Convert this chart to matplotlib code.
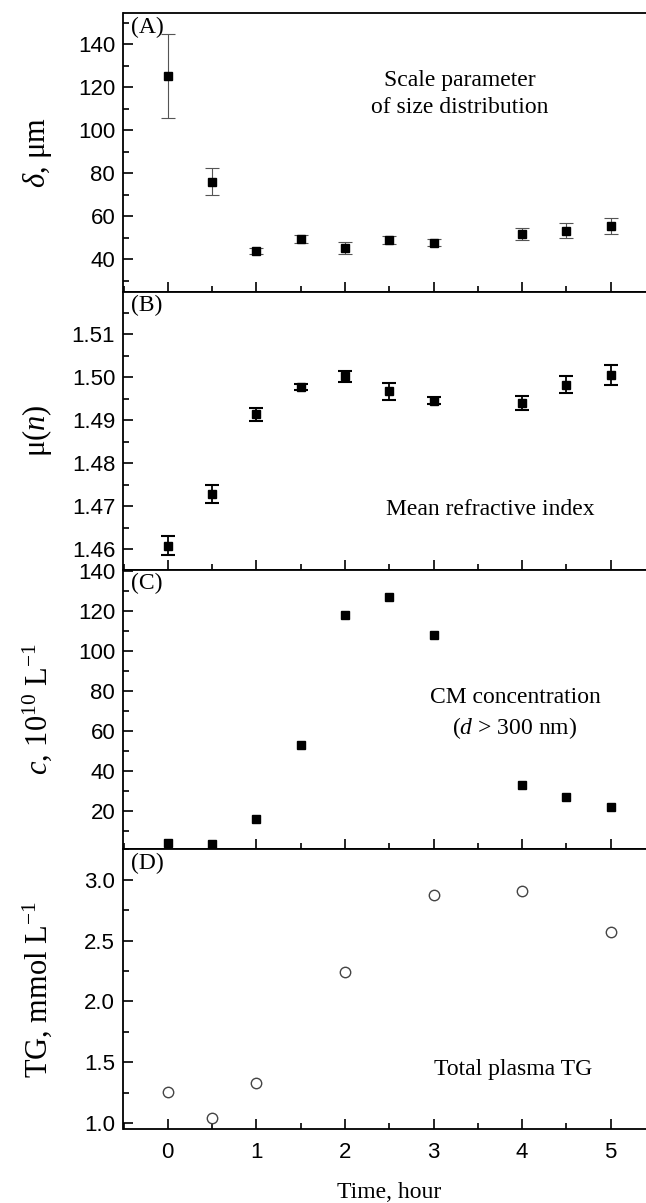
import numpy as np
import matplotlib
matplotlib.use('Agg')
import matplotlib.pyplot as plt
from matplotlib.ticker import MultipleLocator

plt.rcParams['font.family'] = ['Liberation Sans', 'DejaVu Sans']
plt.rcParams['mathtext.fontset'] = 'custom'
plt.rcParams['mathtext.rm'] = 'Liberation Serif'
plt.rcParams['mathtext.it'] = 'Liberation Serif:italic'
plt.rcParams['mathtext.bf'] = 'Liberation Serif:bold'

# data
time_ab = [0, 0.5, 1, 1.5, 2, 2.5, 3, 4, 4.5, 5]
delta = [125.2, 76.2, 44.0, 49.5, 45.3, 49.0, 47.8, 51.8, 53.3, 55.5]
delta_err = [19.5, 6.3, 1.5, 2.0, 2.9, 2.0, 1.5, 2.9, 3.5, 3.7]
mu_n = [1.4608, 1.4729, 1.4914, 1.4977, 1.5002, 1.4967, 1.4946, 1.4940, 1.4983, 1.5005]
mu_err = [0.0022, 0.0021, 0.0015, 0.0007, 0.0013, 0.0020, 0.0008, 0.0016, 0.0020, 0.0024]
conc = [3.7, 3.5, 16.0, 52.8, 118.3, 127.3, 108.2, 32.8, 26.8, 22.0]
time_tg = [0, 0.5, 1, 2, 3, 4, 5]
tg = [1.253, 1.044, 1.332, 2.242, 2.871, 2.909, 2.574]

serif = ['Liberation Serif', 'DejaVu Serif']

W, H = 646, 1203
fig = plt.figure(figsize=(W / 100, H / 100), dpi=100)

left = 123.5 / W
width = (655 - 123.5) / W
edges = [13.3, 291.7, 570.0, 849.3, 1129.3]
axes = []
for i in range(4):
    top, bot = edges[i], edges[i + 1]
    ax = fig.add_axes([left, 1 - bot / H, width, (bot - top) / H])
    axes.append(ax)

label_y = [0.543, 0.54, 0.56, 0.525]
for ax, ly in zip(axes, label_y):
    ax.set_xlim(-0.5, 5.5)
    ax.xaxis.set_major_locator(MultipleLocator(1))
    ax.xaxis.set_minor_locator(MultipleLocator(0.5))
    ax.tick_params(which='both', direction='in', top=False, right=False, width=1.2)
    ax.tick_params(which='major', length=7, labelsize=16)
    ax.tick_params(which='minor', length=4)
    ax.tick_params(axis='y', pad=6)
    ax.tick_params(axis='x', pad=9)
    ax.spines['right'].set_visible(False)
    for s in ['left', 'top', 'bottom']:
        ax.spines[s].set_linewidth(1.3)
    ax.yaxis.set_label_coords(-0.13, ly)
for ax in axes[:3]:
    ax.tick_params(axis='x', labelbottom=False)

# (A)
ax = axes[0]
ax.errorbar(time_ab, delta, yerr=delta_err, fmt='s', color='black', ms=6,
            ecolor='#555555', elinewidth=0.8, capsize=5, capthick=0.8)
ax.set_ylim(25, 154.5)
ax.set_yticks([40, 60, 80, 100, 120, 140])
ax.yaxis.set_minor_locator(MultipleLocator(10))
ax.set_ylabel(r'$\delta$, μm', family=serif, fontsize=22)
ax.text(3.3, 0.71, 'Scale parameter\nof size distribution', transform=ax.get_xaxis_transform(),
        ha='center', va='center', family=serif, fontsize=17, linespacing=1.35)

# (B)
ax = axes[1]
ax.errorbar(time_ab, mu_n, yerr=mu_err, fmt='s', color='black', ms=6,
            ecolor='black', elinewidth=1.3, capsize=5, capthick=1.5)
ax.set_ylim(1.4552, 1.5199)
ax.set_yticks([1.46, 1.47, 1.48, 1.49, 1.50, 1.51])
ax.set_yticklabels(['1.46', '1.47', '1.48', '1.49', '1.50', '1.51'])
ax.yaxis.set_minor_locator(MultipleLocator(0.005))
ax.set_ylabel(r'μ($n$)', family=serif, fontsize=22)
ax.text(3.64, 0.216, 'Mean refractive index', transform=ax.get_xaxis_transform(),
        ha='center', va='center', family=serif, fontsize=17)

# (C)
ax = axes[2]
ax.plot(time_ab, conc, 's', color='black', ms=6)
ax.set_ylim(0.7, 140.6)
ax.set_yticks([20, 40, 60, 80, 100, 120, 140])
ax.yaxis.set_minor_locator(MultipleLocator(10))
ax.set_ylabel(r'$c$, 10$^{10}$ L$^{-1}$', family=serif, fontsize=22)
ax.text(3.92, 0.484, 'CM concentration\n' + r'($d$ > 300 nm)', transform=ax.get_xaxis_transform(),
        ha='center', va='center', family=serif, fontsize=17, linespacing=1.35)

# (D)
ax = axes[3]
ax.plot(time_tg, tg, 'o', mfc='white', mec='#444444', mew=1.0, ms=7.5)
ax.set_ylim(0.95, 3.25)
ax.yaxis.set_major_locator(MultipleLocator(0.5))
ax.yaxis.set_minor_locator(MultipleLocator(0.25))
ax.set_ylabel(r'TG, mmol L$^{-1}$', family=serif, fontsize=22)
ax.text(3.9, 0.212, 'Total plasma TG', transform=ax.get_xaxis_transform(),
        ha='center', va='center', family=serif, fontsize=17)
ax.set_xticks([0, 1, 2, 3, 4, 5])
fig.text(389 / W, 1 - 1193 / H, 'Time, hour', ha='center', va='center',
         family=serif, fontsize=17)

for ax, lab in zip(axes, ['(A)', '(B)', '(C)', '(D)']):
    ax.text(0.014, 0.988, lab, transform=ax.transAxes, ha='left', va='top',
            family=serif, fontsize=17)

fig.savefig('out.png', dpi=100)
